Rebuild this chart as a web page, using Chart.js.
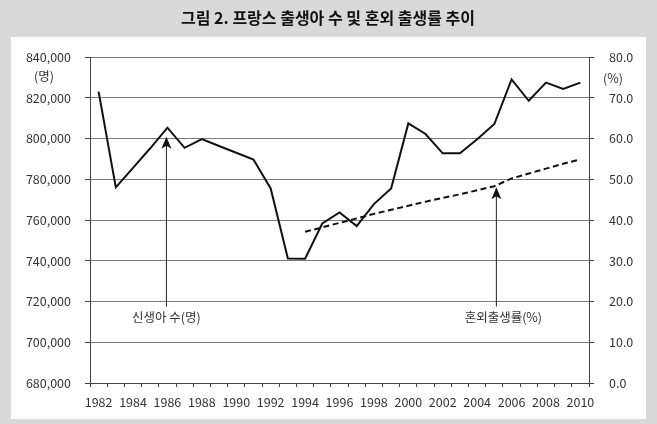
<!DOCTYPE html>
<html>
<head>
<meta charset="utf-8">
<script src="https://cdn.jsdelivr.net/npm/chart.js@4/dist/chart.umd.min.js"></script>
<style>
  html, body { margin: 0; padding: 0; background: #d9d9d9; }
  canvas { display: block; }
</style>
</head>
<body>
<canvas id="chart" width="657" height="424"></canvas>
<script>
// data
const years = ['1982', '1983', '1984', '1985', '1986', '1987', '1988', '1989', '1990', '1991',
  '1992', '1993', '1994', '1995', '1996', '1997', '1998', '1999', '2000', '2001',
  '2002', '2003', '2004', '2005', '2006', '2007', '2008', '2009', '2010'];

// births (명), left axis
const births = [823000, 776000, 785600, 795200, 805300, 795400, 799700, 796300, 793000, 789700,
  775500, 741100, 741000, 758300, 763700, 757000, 767800, 775500, 807400, 802200,
  792700, 792700, 799600, 807100, 829000, 818500, 827400, 824300, 827400];

// share of births outside marriage (%), right axis, starts in 1994
const outsideMarriage = [null, null, null, null, null, null, null, null, null, null,
  null, null, 37.1, 38.2, 39.3, 40.4, 41.5, 42.5, 43.5, 44.5,
  45.4, 46.3, 47.3, 48.3, 50.2, 51.4, 52.6, 53.8, 54.9];

const titleText = '그림 2. 프랑스 출생아 수 및 혼외 출생률 추이';
const leftUnit = '(명)';
const rightUnit = '(%)';

// arrow call-outs: which series / year they point at
const callouts = [
  { label: '신생아 수(명)', year: '1986', series: 0, gap: 9, dx: -1, textDx: 0 },
  { label: '혼외출생률(%)', year: '2005', series: 1, gap: 1, dx: 2, textDx: 7 }
];
const calloutBase = 717500; // left-axis value where the arrow stems end

const FONT = "'Noto Sans CJK KR', 'Noto Sans', sans-serif";
const TEXT = '#333';
const AXIS = '#444';
const TICK_SIZE = 12.5;

const framePlugin = {
  id: 'frame',
  beforeDraw(chart) {
    const c = chart.ctx;
    c.save();
    c.fillStyle = '#d9d9d9';
    c.fillRect(0, 0, chart.width, chart.height);
    c.fillStyle = '#ffffff';
    c.fillRect(11, 37, 635, 382);
    c.fillStyle = '#111';
    c.font = 'bold 16px ' + FONT;
    c.textAlign = 'center';
    c.textBaseline = 'middle';
    c.fillText(titleText, 328, 18);
    c.restore();
  },
  afterDraw(chart) {
    const c = chart.ctx;
    const a = chart.chartArea;
    c.save();
    c.fillStyle = TEXT;
    c.font = TICK_SIZE + 'px ' + FONT;
    c.textAlign = 'center';
    c.textBaseline = 'middle';
    c.fillText(leftUnit, a.left - 46, a.top + 19);
    c.fillText(rightUnit, a.right + 24, a.top + 21);

    const xs = chart.scales.x;
    const baseY = chart.scales.y.getPixelForValue(calloutBase);
    callouts.forEach(n => {
      const i = years.indexOf(n.year);
      const ds = chart.data.datasets[n.series];
      const sc = chart.scales[ds.yAxisID];
      const x = xs.getPixelForValue(i) + n.dx;
      const tip = sc.getPixelForValue(ds.data[i]) + n.gap;
      c.strokeStyle = '#222';
      c.lineWidth = 1;
      c.beginPath();
      c.moveTo(x, tip + 8);
      c.lineTo(x, baseY);
      c.stroke();
      // stealth arrow head
      c.fillStyle = '#111';
      c.beginPath();
      c.moveTo(x, tip);
      c.lineTo(x + 5, tip + 12);
      c.lineTo(x, tip + 9);
      c.lineTo(x - 5, tip + 12);
      c.closePath();
      c.fill();
      c.fillStyle = TEXT;
      c.font = TICK_SIZE + 'px ' + FONT;
      c.fillText(n.label, x + n.textDx, baseY + 11);
    });
    c.restore();
  }
};

new Chart(document.getElementById('chart'), {
  type: 'line',
  data: {
    labels: years,
    datasets: [
      {
        label: '신생아 수(명)',
        data: births,
        yAxisID: 'y',
        borderColor: '#111',
        borderWidth: 2,
        pointRadius: 0,
        tension: 0,
        fill: false
      },
      {
        label: '혼외출생률(%)',
        data: outsideMarriage,
        yAxisID: 'y1',
        borderColor: '#111',
        borderWidth: 2,
        borderDash: [6, 3.5],
        pointRadius: 0,
        tension: 0,
        fill: false,
        spanGaps: false
      }
    ]
  },
  options: {
    responsive: false,
    animation: false,
    devicePixelRatio: 1,
    layout: { padding: { top: 57, left: 0, right: 0, bottom: 0 } },
    plugins: {
      legend: { display: false },
      title: { display: false },
      tooltip: { enabled: false }
    },
    scales: {
      x: {
        type: 'category',
        offset: true,
        grid: { offset: true, drawOnChartArea: false, drawTicks: true, tickLength: 4, color: AXIS },
        border: { color: AXIS, width: 1 },
        ticks: {
          autoSkip: false,
          maxRotation: 0,
          padding: 8,
          color: TEXT,
          font: { family: FONT, size: TICK_SIZE },
          callback: (v, i) => (i % 2 === 0 ? years[i] : '')
        },
        afterFit: s => { s.height = 41; }
      },
      y: {
        position: 'left',
        min: 680000,
        max: 840000,
        grid: { color: '#7d7d7d', lineWidth: 1, tickLength: 5, tickColor: AXIS },
        border: { color: AXIS, width: 1 },
        ticks: {
          stepSize: 20000,
          padding: 14,
          color: TEXT,
          font: { family: FONT, size: TICK_SIZE },
          callback: v => v.toLocaleString('en-US')
        },
        afterFit: s => { s.width = 90; }
      },
      y1: {
        position: 'right',
        min: 0,
        max: 80,
        grid: { drawOnChartArea: false, tickLength: 5, color: AXIS },
        border: { color: AXIS, width: 1 },
        ticks: {
          stepSize: 10,
          padding: 15,
          color: TEXT,
          font: { family: FONT, size: TICK_SIZE },
          callback: v => v.toFixed(1)
        },
        afterFit: s => { s.width = 68; }
      }
    }
  },
  plugins: [framePlugin]
});
</script>
</body>
</html>
